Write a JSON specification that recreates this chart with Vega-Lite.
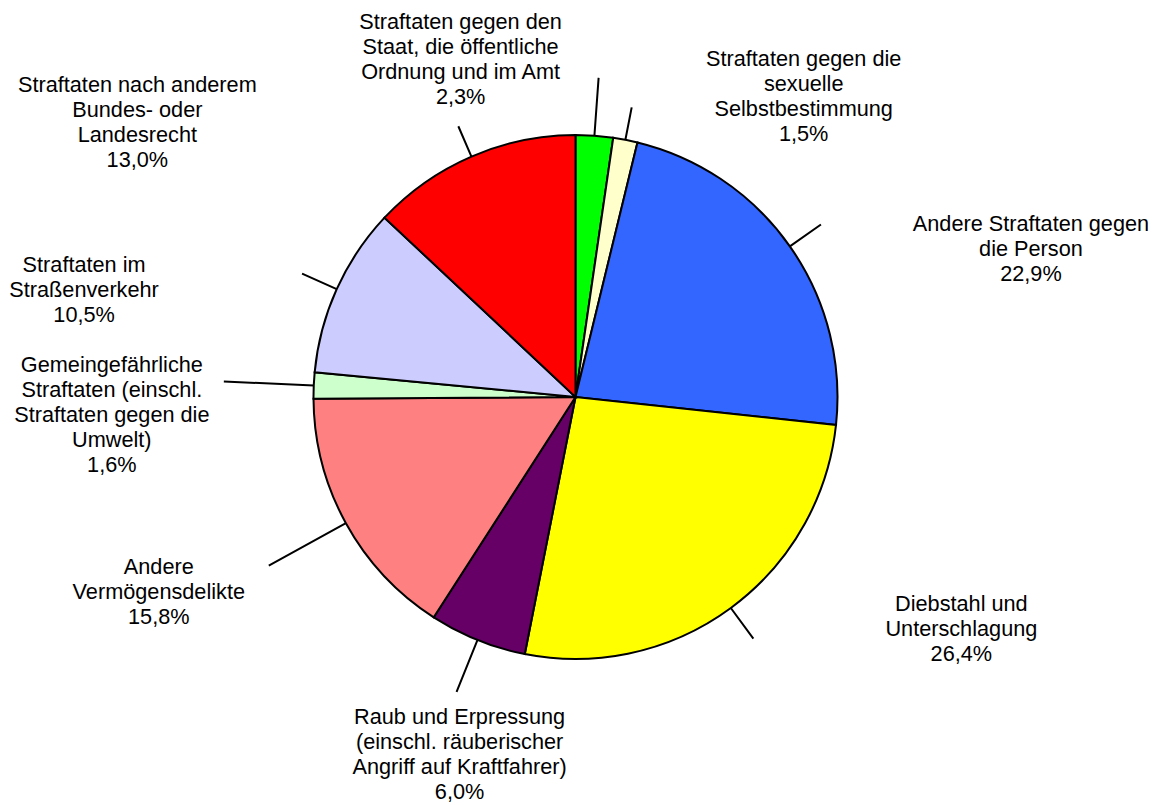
{
  "$schema": "https://vega.github.io/schema/vega-lite/v6.json",
  "width": 1151,
  "height": 794,
  "autosize": {"type": "none"},
  "padding": {"left": 0, "top": 0, "right": 9, "bottom": 11},
  "background": "white",
  "config": {"view": {"stroke": null}},
  "data": {
    "values": [
      {"nr": 1, "kategorie": "Straftaten gegen den Staat, die öffentliche Ordnung und im Amt", "anteil": 2.3, "label": "Straftaten gegen den\nStaat, die öffentliche\nOrdnung und im Amt\n2,3%"},
      {"nr": 2, "kategorie": "Straftaten gegen die sexuelle Selbstbestimmung", "anteil": 1.5, "label": "Straftaten gegen die\nsexuelle\nSelbstbestimmung\n1,5%"},
      {"nr": 3, "kategorie": "Andere Straftaten gegen die Person", "anteil": 22.9, "label": "Andere Straftaten gegen\ndie Person\n22,9%"},
      {"nr": 4, "kategorie": "Diebstahl und Unterschlagung", "anteil": 26.4, "label": "Diebstahl und\nUnterschlagung\n26,4%"},
      {"nr": 5, "kategorie": "Raub und Erpressung (einschl. räuberischer Angriff auf Kraftfahrer)", "anteil": 6.0, "label": "Raub und Erpressung\n(einschl. räuberischer\nAngriff auf Kraftfahrer)\n6,0%"},
      {"nr": 6, "kategorie": "Andere Vermögensdelikte", "anteil": 15.8, "label": "Andere\nVermögensdelikte\n15,8%"},
      {"nr": 7, "kategorie": "Gemeingefährliche Straftaten (einschl. Straftaten gegen die Umwelt)", "anteil": 1.6, "label": "Gemeingefährliche\nStraftaten (einschl.\nStraftaten gegen die\nUmwelt)\n1,6%"},
      {"nr": 8, "kategorie": "Straftaten im Straßenverkehr", "anteil": 10.5, "label": "Straftaten im\nStraßenverkehr\n10,5%"},
      {"nr": 9, "kategorie": "Straftaten nach anderem Bundes- oder Landesrecht", "anteil": 13.0, "label": "Straftaten nach anderem\nBundes- oder\nLandesrecht\n13,0%"}
    ]
  },
  "layer": [
    {
      "mark": {"type": "arc", "outerRadius": 262, "stroke": "black", "strokeWidth": 2},
      "encoding": {
        "theta": {"field": "anteil", "type": "quantitative", "stack": true, "scale": {"domain": [0, 100]}},
        "order": {"field": "nr", "type": "quantitative"},
        "color": {
          "field": "kategorie",
          "type": "nominal",
          "legend": null,
          "scale": {
            "domain": [
              "Straftaten gegen den Staat, die öffentliche Ordnung und im Amt",
              "Straftaten gegen die sexuelle Selbstbestimmung",
              "Andere Straftaten gegen die Person",
              "Diebstahl und Unterschlagung",
              "Raub und Erpressung (einschl. räuberischer Angriff auf Kraftfahrer)",
              "Andere Vermögensdelikte",
              "Gemeingefährliche Straftaten (einschl. Straftaten gegen die Umwelt)",
              "Straftaten im Straßenverkehr",
              "Straftaten nach anderem Bundes- oder Landesrecht"
            ],
            "range": ["#00FF00", "#FFFFCC", "#3366FF", "#FFFF00", "#660066", "#FF8080", "#CCFFCC", "#CCCCFF", "#FF0000"]
          }
        }
      }
    },
    {
      "transform": [
        {"stack": "anteil", "groupby": [], "sort": [{"field": "nr", "order": "ascending"}], "as": ["s0", "s1"]},
        {"fold": ["s0", "s1"], "as": ["k", "v"]},
        {"aggregate": [{"op": "mean", "field": "v", "as": "mid"}], "groupby": ["nr", "kategorie", "label"]}
      ],
      "encoding": {
        "theta": {"field": "mid", "type": "quantitative", "stack": null, "scale": {"domain": [0, 100]}}
      },
      "layer": [
        {"transform": [{"filter": "datum.nr == 1"}], "layer": [
          {"mark": {"type": "arc", "innerRadius": 262, "outerRadius": 320, "filled": false, "color": "black", "strokeWidth": 2}, "encoding": {"theta2": {"field": "mid"}}},
          {"mark": {"type": "text", "radius": 320, "dx": -138, "dy": -56, "align": "center", "baseline": "middle", "font": "Liberation Sans", "fontSize": 21.7, "lineHeight": 25, "lineBreak": "\n", "color": "black"}, "encoding": {"text": {"field": "label"}}}
        ]},
        {"transform": [{"filter": "datum.nr == 2"}], "layer": [
          {"mark": {"type": "arc", "innerRadius": 262, "outerRadius": 295, "filled": false, "color": "black", "strokeWidth": 2}, "encoding": {"theta2": {"field": "mid"}}},
          {"mark": {"type": "text", "radius": 295, "dx": 172, "dy": -48, "align": "center", "baseline": "middle", "font": "Liberation Sans", "fontSize": 21.7, "lineHeight": 25, "lineBreak": "\n", "color": "black"}, "encoding": {"text": {"field": "label"}}}
        ]},
        {"transform": [{"filter": "datum.nr == 3"}], "layer": [
          {"mark": {"type": "arc", "innerRadius": 262, "outerRadius": 300, "filled": false, "color": "black", "strokeWidth": 2}, "encoding": {"theta2": {"field": "mid"}}},
          {"mark": {"type": "text", "radius": 300, "dx": 210, "dy": 0, "align": "center", "baseline": "middle", "font": "Liberation Sans", "fontSize": 21.7, "lineHeight": 25, "lineBreak": "\n", "color": "black"}, "encoding": {"text": {"field": "label"}}}
        ]},
        {"transform": [{"filter": "datum.nr == 4"}], "layer": [
          {"mark": {"type": "arc", "innerRadius": 262, "outerRadius": 300, "filled": false, "color": "black", "strokeWidth": 2}, "encoding": {"theta2": {"field": "mid"}}},
          {"mark": {"type": "text", "radius": 300, "dx": 208, "dy": -35, "align": "center", "baseline": "middle", "font": "Liberation Sans", "fontSize": 21.7, "lineHeight": 25, "lineBreak": "\n", "color": "black"}, "encoding": {"text": {"field": "label"}}}
        ]},
        {"transform": [{"filter": "datum.nr == 5"}], "layer": [
          {"mark": {"type": "arc", "innerRadius": 262, "outerRadius": 318, "filled": false, "color": "black", "strokeWidth": 2}, "encoding": {"theta2": {"field": "mid"}}},
          {"mark": {"type": "text", "radius": 318, "dx": 3, "dy": 25, "align": "center", "baseline": "middle", "font": "Liberation Sans", "fontSize": 21.7, "lineHeight": 25, "lineBreak": "\n", "color": "black"}, "encoding": {"text": {"field": "label"}}}
        ]},
        {"transform": [{"filter": "datum.nr == 6"}], "layer": [
          {"mark": {"type": "arc", "innerRadius": 262, "outerRadius": 350, "filled": false, "color": "black", "strokeWidth": 2}, "encoding": {"theta2": {"field": "mid"}}},
          {"mark": {"type": "text", "radius": 350, "dx": -110, "dy": 1, "align": "center", "baseline": "middle", "font": "Liberation Sans", "fontSize": 21.7, "lineHeight": 25, "lineBreak": "\n", "color": "black"}, "encoding": {"text": {"field": "label"}}}
        ]},
        {"transform": [{"filter": "datum.nr == 7"}], "layer": [
          {"mark": {"type": "arc", "innerRadius": 262, "outerRadius": 352, "filled": false, "color": "black", "strokeWidth": 2}, "encoding": {"theta2": {"field": "mid"}}},
          {"mark": {"type": "text", "radius": 352, "dx": -112, "dy": -17, "align": "center", "baseline": "middle", "font": "Liberation Sans", "fontSize": 21.7, "lineHeight": 25, "lineBreak": "\n", "color": "black"}, "encoding": {"text": {"field": "label"}}}
        ]},
        {"transform": [{"filter": "datum.nr == 8"}], "layer": [
          {"mark": {"type": "arc", "innerRadius": 262, "outerRadius": 300, "filled": false, "color": "black", "strokeWidth": 2}, "encoding": {"theta2": {"field": "mid"}}},
          {"mark": {"type": "text", "radius": 300, "dx": -218, "dy": -9, "align": "center", "baseline": "middle", "font": "Liberation Sans", "fontSize": 21.7, "lineHeight": 25, "lineBreak": "\n", "color": "black"}, "encoding": {"text": {"field": "label"}}}
        ]},
        {"transform": [{"filter": "datum.nr == 9"}], "layer": [
          {"mark": {"type": "arc", "innerRadius": 262, "outerRadius": 295, "filled": false, "color": "black", "strokeWidth": 2}, "encoding": {"theta2": {"field": "mid"}}},
          {"mark": {"type": "text", "radius": 295, "dx": -321, "dy": -41, "align": "center", "baseline": "middle", "font": "Liberation Sans", "fontSize": 21.7, "lineHeight": 25, "lineBreak": "\n", "color": "black"}, "encoding": {"text": {"field": "label"}}}
        ]}
      ]
    }
  ]
}
